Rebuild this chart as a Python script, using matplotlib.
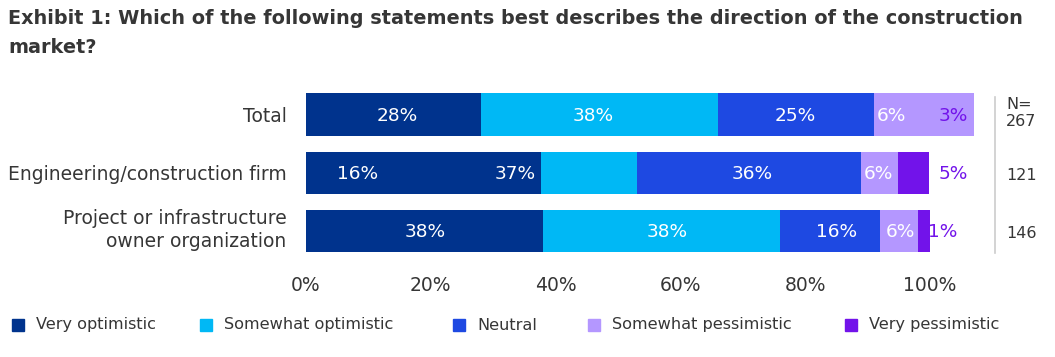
import matplotlib.pyplot as plt
from matplotlib.patches import Rectangle
from matplotlib.transforms import ScaledTranslation

# data -------------------------------------------------------------------
groups = ["Total", "Engineering/construction firm",
          "Project or infrastructure\nowner organization"]
series = ["Very optimistic", "Somewhat optimistic", "Neutral",
          "Somewhat pessimistic", "Very pessimistic"]
# drawn segment widths (as they appear in the exhibit)
very_opt = [28.0, 37.7, 38.0]
somewhat_opt = [38.0, 15.3, 38.0]
neutral = [25.0, 35.9, 16.0]
somewhat_pess = [16.0, 6.0, 6.0]
very_pess = [0.0, 5.0, 2.0]
# printed labels
labels = [
    ["28%", "38%", "25%", "6%", "3%"],
    ["16%", "37%", "36%", "6%", "5%"],
    ["38%", "38%", "16%", "6%", "1%"],
]
n_text = ["N=\n267", "121", "146"]
ticks = [0, 20, 40, 60, 80, 100]

# style -------------------------------------------------------------------
colors = ["#00338D", "#00B8F5", "#1E49E2", "#B497FF", "#7213EA"]
label_x = [
    [14.6, 46.0, 78.4, 93.9, 103.7],
    [8.3, 33.5, 71.5, 91.7, 103.7],
    [19.1, 57.9, 85.1, 95.2, 102.1],
]
purple_txt = "#7213EA"
txt_color = "#363636"

plt.rcParams['font.family'] = ["DejaVu Sans"]

W, H = 1055, 357
fig = plt.figure(figsize=(W / 100, H / 100), dpi=100)
ax = fig.add_axes([306 / W, 1 - 260.5 / H, (930 - 306) / W, (260.5 - 85.3) / H])

values = [very_opt, somewhat_opt, neutral, somewhat_pess, very_pess]
y = list(range(len(groups)))
left = [0.0] * len(groups)
for s, vals in enumerate(values):
    ax.barh(y, vals, left=left, height=0.72, color=colors[s], clip_on=False)
    left = [l + v for l, v in zip(left, vals)]

for i in range(len(groups)):
    for j, lab in enumerate(labels[i]):
        c = purple_txt if j == 4 else "white"
        ax.text(label_x[i][j], i + 0.02, lab, ha='center', va='center',
                fontsize=13.3, color=c, clip_on=False)

ax.set_xlim(0, 100)
ax.set_ylim(2.5, -0.5)
ax.set_xticks(ticks)
ax.set_xticklabels([f"{t}%" for t in ticks])
ax.set_yticks(y)
ax.set_yticklabels(groups, ha='right', multialignment='right', linespacing=1.3)
ax.tick_params(axis='both', length=0, labelcolor=txt_color)
ax.tick_params(axis='x', pad=11, labelsize=13.5)
ax.tick_params(axis='y', pad=14, labelsize=13.5)
for sp in ax.spines.values():
    sp.set_visible(False)
# two-line label sits a bit above its bar in the exhibit
last = ax.get_yticklabels()[-1]
last.set_transform(last.get_transform() + ScaledTranslation(0, 4 / 72, fig.dpi_scale_trans))

# N column
fig.add_artist(plt.Line2D([995 / W, 995 / W], [1 - 97 / H, 1 - 253 / H],
                          color="#cccccc", lw=1.2))
n_pos = [113, 175, 233]
for t, yp in zip(n_text, n_pos):
    fig.text(1006 / W, 1 - yp / H, t, ha='left', va='center', fontsize=11.5,
             color=txt_color, linespacing=1.2)

# title
title_lines = ["Exhibit 1: Which of the following statements best describes the direction of the construction",
               "market?"]
for k, line in enumerate(title_lines):
    fig.text(8 / W, 1 - (24 + 29 * k) / H, line, ha='left', va='baseline',
             fontsize=13.83, fontweight='bold', color=txt_color)

# legend
sq_x = [12, 200, 453, 588, 845]
for s, name in enumerate(series):
    fig.add_artist(Rectangle((sq_x[s] / W, 1 - 331 / H), 12 / W, 12 / H,
                             transform=fig.transFigure, color=colors[s]))
    fig.text((sq_x[s] + 24) / W, 1 - 325 / H, name, ha='left', va='center',
             fontsize=11.6, color=txt_color)

fig.savefig("out.png", dpi=100)
